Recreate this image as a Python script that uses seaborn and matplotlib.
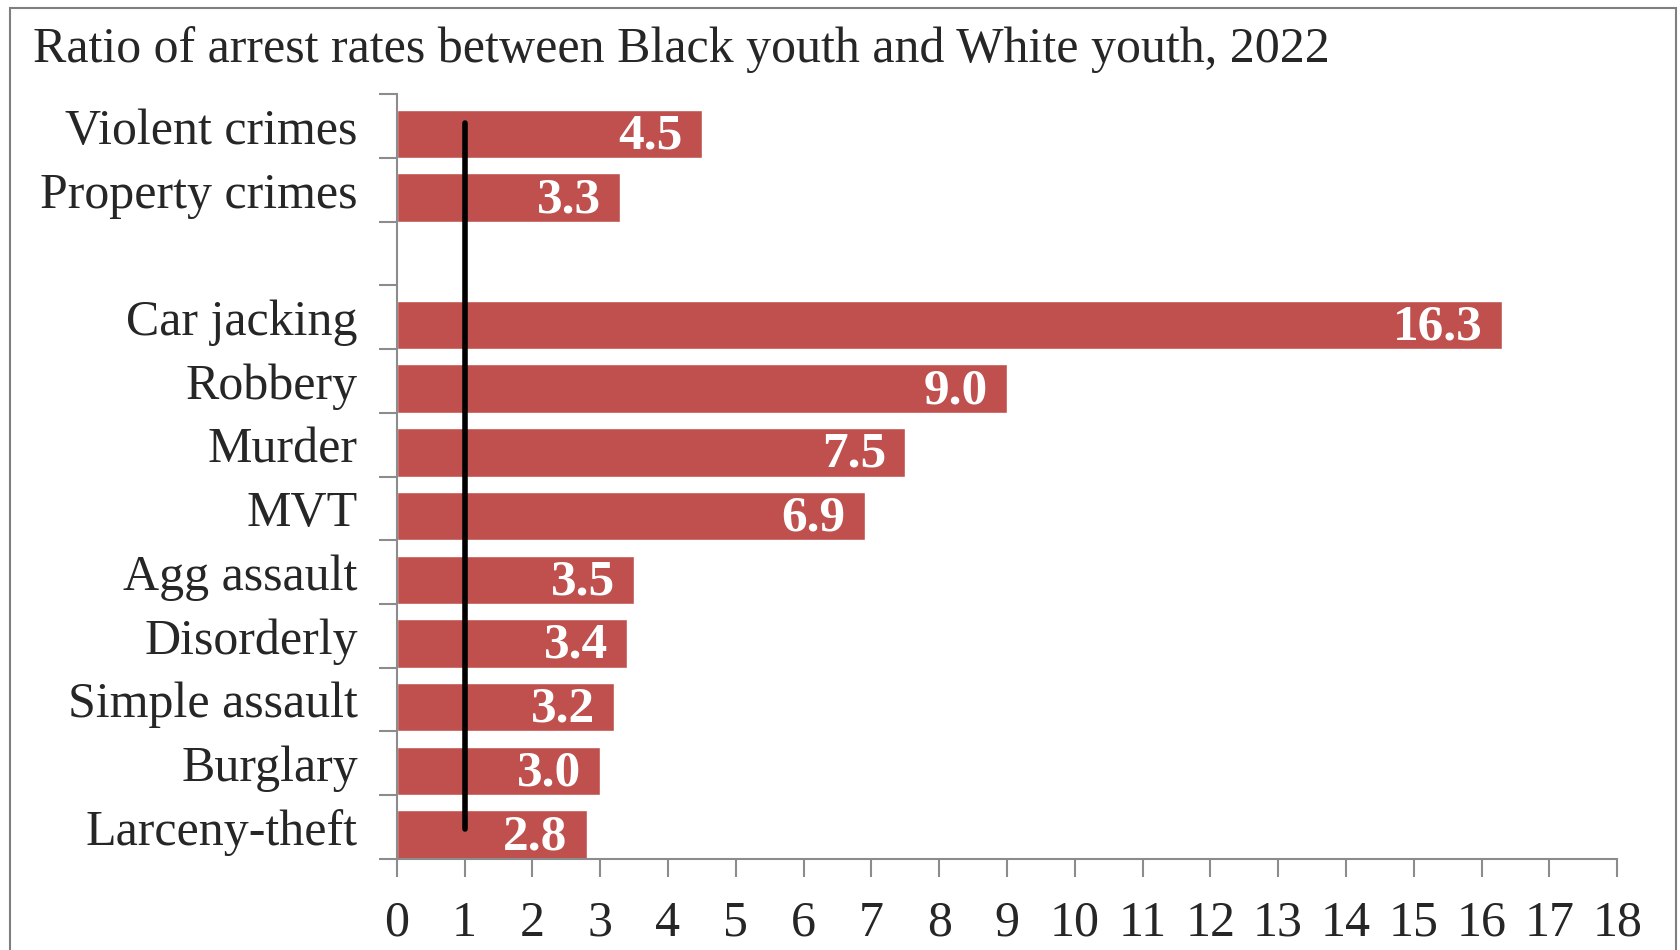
import matplotlib
matplotlib.use("Agg")
import matplotlib.pyplot as plt
import seaborn as sns
import pandas as pd
import numpy as np
from matplotlib.patches import Rectangle

categories = ["Violent crimes", "Property crimes", "Car jacking", "Robbery", "Murder", "MVT",
              "Agg assault", "Disorderly", "Simple assault", "Burglary", "Larceny-theft"]
values = [4.5, 3.3, 16.3, 9.0, 7.5, 6.9, 3.5, 3.4, 3.2, 3.0, 2.8]
order = ["Violent crimes", "Property crimes", " ", "Car jacking", "Robbery", "Murder", "MVT",
         "Agg assault", "Disorderly", "Simple assault", "Burglary", "Larceny-theft"]
xticks = list(range(0, 19))
title = "Ratio of arrest rates between Black youth and White youth, 2022"

sns.set_theme(style="white")
plt.rcParams['font.family'] = ['Liberation Serif', 'DejaVu Serif']

df = pd.DataFrame({"cat": categories, "val": values})

fig = plt.figure(figsize=(16.81, 9.5), dpi=100)
ax = fig.add_axes([0.236, 0.0961, 0.962 - 0.236, 0.9007 - 0.0961])

bw = 0.76
sns.barplot(data=df, y="cat", x="val", order=order, color="#C0504D", saturation=1,
            width=bw, ax=ax, orient="h")

n = len(order)
off = bw / 2  # bars sit at the bottom of each slot
ax.set_xlim(0, 18)
ax.set_ylim(n - 1 + off, -1 + off)
ax.set_xlabel("")
ax.set_ylabel("")
ax.set_xticks(xticks)
ax.set_xticklabels([str(t) for t in xticks], fontsize=36)
ax.set_yticks(np.arange(n) + off - 0.5)
ax.set_yticklabels(order, fontsize=36)
ax.set_yticks(np.arange(-1, n) + off, minor=True)
ax.tick_params(axis="y", which="major", length=0, pad=28)
ax.tick_params(axis="y", which="minor", length=13, width=1.5, color="#8c8c8c", direction="out", left=True)
ax.tick_params(axis="x", which="major", length=13, width=1.5, color="#8c8c8c", direction="out",
               bottom=True, pad=17)
for s in ["top", "right"]:
    ax.spines[s].set_visible(False)
for s in ["left", "bottom"]:
    ax.spines[s].set_color("#8c8c8c")
    ax.spines[s].set_linewidth(1.5)

pos = {c: i for i, c in enumerate(order)}
for c, v in zip(categories, values):
    ax.text(v - 0.28, pos[c] + 0.04, f"{v:.1f}", ha="right", va="center", color="white",
            fontsize=37, fontweight="bold")

ax.plot([1, 1], [-0.165, 10.91], color="black", lw=4, solid_capstyle="round", zorder=5)

fig.text(33 / 1681, 1 - 62 / 950, title, ha="left", va="baseline", fontsize=36)

fig.patches.append(Rectangle((10 / 1681, -0.02), (1676 - 10) / 1681, 1 - 8 / 950 + 0.02,
                             transform=fig.transFigure, fill=False, edgecolor="#7f7f7f", lw=1.5))

fig.savefig("out.png", dpi=100)
